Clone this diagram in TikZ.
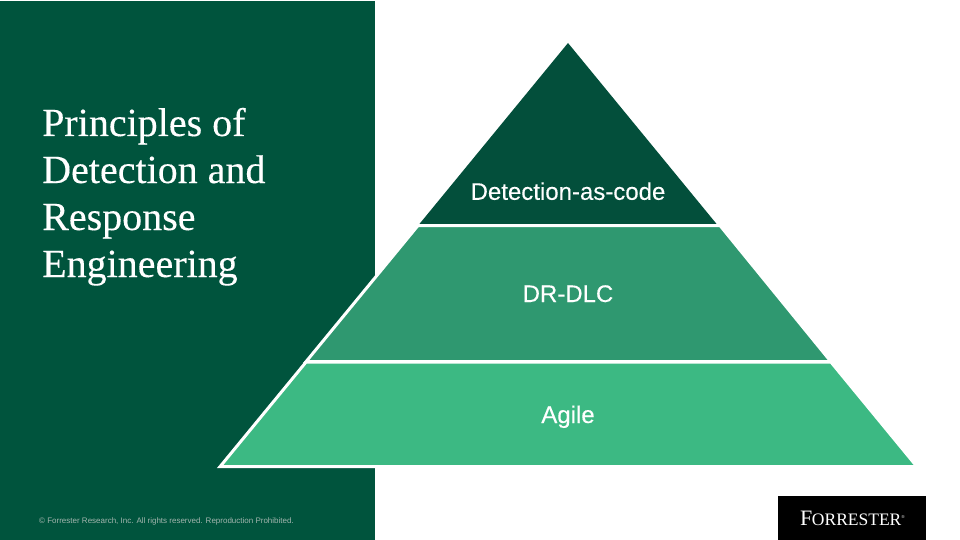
\documentclass[tikz,border=0pt]{standalone}
\usepackage{fontspec}
\setmainfont{Liberation Serif}
\newfontfamily\arialf{Liberation Sans}[FakeBold=0.25]
\newfontfamily\arialplain{Liberation Sans}
\definecolor{panelgreen}{HTML}{00543D}
\definecolor{topgreen}{HTML}{034F3B}
\definecolor{midgreen}{HTML}{2F9870}
\definecolor{lowgreen}{HTML}{3CB983}
\definecolor{copygrey}{HTML}{A3B5AE}
\tikzset{
  tier/.style={draw=white,line width=3pt,line join=miter},
  tierlabel/.style={font=\arialf\fontsize{24}{28}\selectfont,text=white,inner sep=0pt,anchor=base},
  titleline/.style={font=\addfontfeature{FakeBold=0.25}\fontsize{40}{47}\selectfont,text=white,anchor=base west,inner sep=0pt}
}
\begin{document}
\begin{tikzpicture}[x=1pt,y=-1pt]
\useasboundingbox (0,0) rectangle (960,540);
\fill[white] (0,0) rectangle (960,540);
\fill[panelgreen] (0,1) rectangle (375,540);
\fill[topgreen] (568,43) -- (717,224.5) -- (419,224.5) -- cycle;
\draw[tier,fill=midgreen] (418,225.5) -- (720,225.5) -- (831,361.7) -- (306,361.7) -- cycle;
\draw[tier,fill=lowgreen,miter limit=20] (306,362.1) -- (831,362.1) -- (917,466.7) -- (220,466.7) -- cycle;
\node[titleline] (t1) at (42,136) {Principles of};
\node[titleline] (t2) at (42,183) {Detection and};
\node[titleline] (t3) at (42,230) {Response};
\node[titleline] (t4) at (42,277) {Engineering};
\node[tierlabel] (l1) at (568,199.8) {Detection-as-code};
\node[tierlabel] (l2) at (568,302) {DR-DLC};
\node[tierlabel] (l3) at (568,423) {Agile};
\node[font=\arialplain\fontsize{8}{10}\selectfont,text=copygrey,anchor=base west,inner sep=0pt] (copy) at (39,523) {© Forrester Research, Inc. All rights reserved. Reproduction Prohibited.};
\fill[black] (778,496) rectangle (926,540);
\node[font=\fontsize{22}{24}\selectfont,text=white,inner sep=0pt,anchor=base] (logo) at (852.5,525) {F\kern-0.5pt{\fontsize{17.5}{20}\selectfont ORRESTER}\raisebox{7pt}{\fontsize{4.5}{5}\selectfont ®}};
\end{tikzpicture}
\end{document}
